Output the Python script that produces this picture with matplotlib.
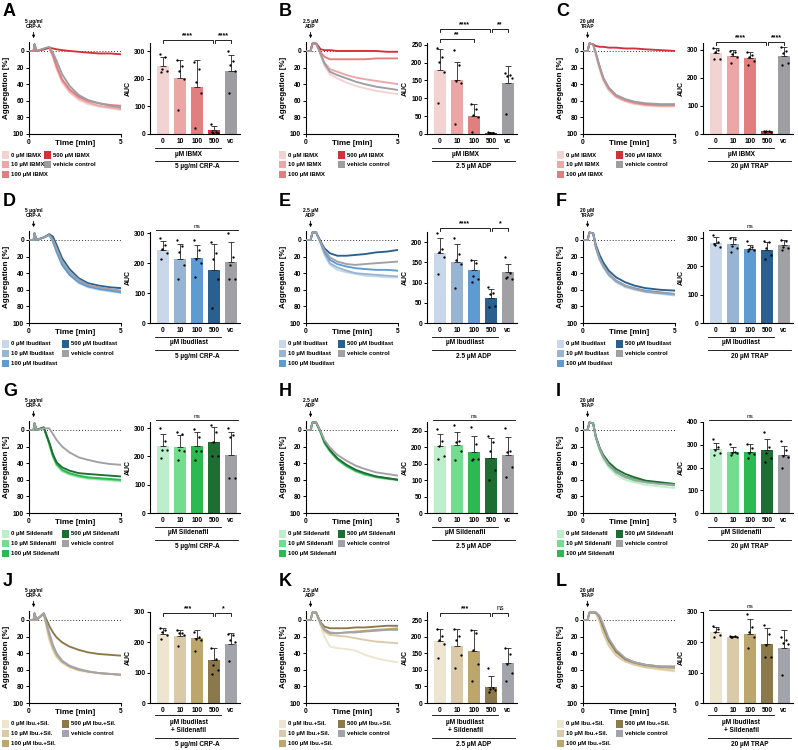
import matplotlib
matplotlib.use('Agg')
import matplotlib.pyplot as plt
import matplotlib.transforms as mtransforms
from matplotlib.patches import Rectangle

plt.rcParams['font.family'] = ['Liberation Sans', 'DejaVu Sans']
plt.rcParams['font.weight'] = 'bold'
plt.rcParams['axes.linewidth'] = 0.8

# ---------------- data ----------------
conc = ['0', '10', '100', '500']
bar_names = ['0', '10', '100', '500', 'vc']

t_crp = [0, 0.25, 0.3, 0.4, 0.8, 1.1, 1.3, 1.5, 1.8, 2.2, 2.7, 3.2, 3.8, 4.4, 5.0]
t_adp = [0, 0.25, 0.35, 0.55, 0.8, 1.0, 1.3, 1.7, 2.2, 2.7, 3.2, 3.8, 4.4, 5.0]
t_trap = [0, 0.25, 0.35, 0.55, 0.7, 0.9, 1.1, 1.4, 1.8, 2.3, 2.8, 3.4, 4.2, 5.0]

# aggregation traces, order: 0, 10, 100, 500, vehicle control
tr_A = [[0, 0, -8, 0, -2, -4, 8, 22, 38, 50, 59, 64, 67, 69, 71],
        [0, 0, -8, 0, -2, -4, 6, 20, 36, 48, 57, 62, 66, 68, 70],
        [0, 0, -8, 0, -2, -4, 5, 18, 34, 46, 55, 60, 63, 65, 66],
        [0, 0, -8, 0, -2, -4, -3, -2, -1, 0, 1, 2, 3, 3, 4],
        [0, 0, -8, 0, -3, -5, 2, 12, 28, 42, 53, 59, 63, 66, 68]]
tr_D = [[0, 0, -8, 0, -3, -6, 2, 15, 30, 42, 52, 57, 60, 62, 64],
        [0, 0, -8, 0, -3, -6, 0, 12, 27, 40, 50, 55, 58, 60, 62],
        [0, 0, -8, 0, -3, -6, 2, 14, 30, 42, 51, 56, 59, 61, 63],
        [0, 0, -8, 0, -3, -7, -4, 6, 22, 35, 46, 52, 55, 57, 58],
        [0, 0, -8, 0, -3, -6, 0, 10, 26, 38, 48, 54, 57, 59, 61]]
tr_G = [[0, 0, -8, 0, -3, 18, 33, 43, 50, 54, 57, 59, 60, 61, 62],
        [0, 0, -8, 0, -3, 17, 32, 42, 49, 53, 56, 58, 59, 60, 61],
        [0, 0, -8, 0, -3, 16, 31, 41, 48, 52, 55, 57, 58, 59, 60],
        [0, 0, -8, 0, -3, 15, 29, 39, 45, 49, 52, 53, 54, 55, 56],
        [0, 0, -8, 0, -2, -2, 5, 12, 20, 27, 33, 36, 39, 41, 42]]
tr_J = [[0, 0, -8, 0, -7, 25, 37, 45, 52, 57, 61, 63, 64, 65, 66],
        [0, 0, -8, 0, -7, 22, 35, 44, 51, 56, 60, 62, 64, 65, 66],
        [0, 0, -8, 0, -8, 18, 32, 42, 50, 56, 60, 62, 64, 65, 66],
        [0, 0, -8, 0, -8, 7, 15, 21, 27, 32, 36, 39, 41, 42, 43],
        [0, 0, -8, 0, -8, 15, 30, 40, 49, 55, 59, 62, 64, 65, 66]]
tr_B = [[0, 0, -9, -9, 5, 18, 28, 33, 38, 42, 45, 48, 50, 52],
        [0, 0, -9, -9, 4, 14, 22, 25, 29, 32, 34, 36, 38, 40],
        [0, 0, -9, -9, 2, 7, 10, 10, 10, 10, 10, 9, 9, 9],
        [0, 0, -9, -9, -2, -1, -1, 0, 0, 0, 0, 0, 1, 1],
        [0, 0, -9, -9, 4, 15, 25, 29, 33, 37, 40, 43, 45, 47]]
tr_E = [[0, 0, -9, -9, 5, 18, 30, 36, 39, 41, 43, 44, 45, 45],
        [0, 0, -9, -9, 4, 16, 28, 33, 37, 40, 41, 42, 43, 44],
        [0, 0, -9, -9, 3, 14, 24, 29, 32, 34, 35, 36, 36, 37],
        [0, 0, -9, -9, 2, 10, 16, 19, 19, 18, 17, 15, 14, 12],
        [0, 0, -9, -9, 3, 12, 21, 26, 29, 30, 29, 28, 27, 26]]
tr_H = [[0, 0, -9, -9, 3, 15, 25, 35, 43, 49, 53, 57, 59, 61],
        [0, 0, -9, -9, 4, 16, 26, 36, 44, 50, 54, 57, 59, 60],
        [0, 0, -9, -9, 3, 15, 25, 35, 43, 49, 53, 56, 58, 60],
        [0, 0, -9, -9, 2, 14, 24, 34, 42, 48, 52, 56, 58, 60],
        [0, 0, -9, -9, 2, 12, 21, 30, 37, 43, 47, 51, 53, 55]]
tr_K = [[0, 0, -9, -9, 8, 20, 32, 34, 35, 37, 42, 46, 49, 51],
        [0, 0, -9, -9, 6, 14, 18, 19, 20, 22, 24, 26, 27, 28],
        [0, 0, -9, -9, 5, 12, 16, 16, 15, 14, 13, 12, 11, 10],
        [0, 0, -9, -9, 3, 8, 10, 10, 10, 9, 9, 8, 7, 7],
        [0, 0, -9, -9, 4, 11, 15, 16, 15, 15, 14, 13, 12, 12]]
tr_C = [[0, 0, -9, -8, 5, 22, 36, 48, 56, 61, 64, 66, 67, 67],
        [0, 0, -9, -8, 4, 20, 34, 46, 55, 60, 63, 65, 66, 66],
        [0, 0, -9, -8, 3, 19, 33, 45, 54, 59, 62, 64, 65, 65],
        [0, 0, -9, -8, -6, -5, -5, -4, -4, -3, -3, -2, -1, 0],
        [0, 0, -9, -8, 3, 18, 32, 44, 53, 58, 61, 63, 64, 64]]
tr_F = [[0, 0, -9, -8, 10, 24, 33, 43, 51, 57, 60, 63, 65, 67],
        [0, 0, -9, -8, 9, 23, 32, 42, 50, 56, 59, 62, 64, 66],
        [0, 0, -9, -8, 9, 22, 31, 41, 49, 55, 58, 61, 63, 65],
        [0, 0, -9, -8, 6, 18, 27, 37, 45, 51, 55, 58, 60, 61],
        [0, 0, -9, -8, 8, 22, 31, 41, 49, 55, 59, 62, 64, 65]]
tr_I = [[0, 0, -9, -8, 10, 25, 35, 45, 54, 60, 63, 66, 68, 70],
        [0, 0, -9, -8, 9, 23, 33, 43, 51, 57, 61, 63, 65, 67],
        [0, 0, -9, -8, 9, 22, 32, 42, 50, 56, 59, 62, 64, 66],
        [0, 0, -9, -8, 8, 21, 30, 39, 47, 53, 57, 61, 63, 65],
        [0, 0, -9, -8, 9, 22, 32, 42, 51, 57, 60, 63, 65, 66]]
tr_L = [[0, 0, -9, -9, -9, 0, 15, 30, 42, 50, 54, 57, 60, 62],
        [0, 0, -9, -9, -8, 2, 16, 31, 43, 50, 54, 57, 59, 61],
        [0, 0, -9, -9, -9, -3, 10, 26, 39, 48, 52, 55, 57, 58],
        [0, 0, -9, -9, -9, -4, 8, 24, 38, 47, 51, 54, 56, 56],
        [0, 0, -9, -9, -9, -5, 5, 22, 36, 46, 51, 54, 56, 57]]

# AUC: bar means, SD, single values
auc_A = [247, 202, 172, 14, 228]
sd_A = [31, 68, 97, 14, 60]
pts_A = [[290, 281, 234, 227, 225], [269, 245, 227, 200, 87], [262, 234, 190, 150, 22],
         [38, 8, 5, 3, 8], [300, 266, 252, 227, 149]]
auc_B = [178, 151, 51, 3, 143]
sd_B = [60, 52, 33, 2, 48]
pts_B = [[241, 216, 203, 175, 86], [235, 192, 149, 144, 28], [84, 71, 53, 48, 7],
         [5, 3, 2, 1, 4], [171, 165, 162, 157, 55]]
auc_C = [288, 280, 272, 9, 279]
sd_C = [18, 20, 22, 1, 33]
pts_C = [[306, 300, 294, 268, 267], [297, 294, 286, 274, 255], [292, 282, 274, 261, 247],
         [10, 9, 9, 8, 8], [310, 298, 288, 255, 247]]
auc_D = [243, 216, 217, 178, 204]
sd_D = [33, 50, 46, 88, 66]
pts_D = [[285, 263, 249, 235, 213], [277, 258, 238, 196, 146], [277, 244, 213, 202, 155],
         [271, 233, 213, 149, 50], [302, 222, 196, 146, 146]]
auc_E = [172, 152, 130, 62, 125]
sd_E = [39, 44, 26, 23, 22]
pts_E = [[223, 184, 176, 164, 120], [209, 170, 157, 145, 86], [155, 149, 116, 108, 102],
         [89, 75, 71, 43, 39], [163, 123, 113, 110, 112]]
auc_F = [284, 278, 262, 258, 275]
sd_F = [22, 28, 15, 30, 18]
pts_F = [[312, 285, 275, 268, 280], [300, 298, 272, 265, 250], [290, 270, 262, 258, 255],
         [290, 285, 265, 240, 225], [295, 290, 270, 265, 260]]
auc_G = [238, 233, 238, 250, 204]
sd_G = [41, 43, 50, 54, 84]
pts_G = [[300, 255, 224, 224, 196], [288, 279, 224, 218, 188], [298, 270, 218, 218, 188],
         [312, 285, 250, 200, 200], [300, 276, 270, 124, 124]]
auc_H = [203, 208, 187, 168, 177]
sd_H = [37, 40, 48, 59, 55]
pts_H = [[255, 220, 205, 175, 165], [268, 218, 215, 190, 160], [262, 210, 165, 165, 162],
         [233, 217, 190, 130, 100], [258, 190, 187, 140, 110]]
auc_I = [281, 267, 270, 275, 255]
sd_I = [27, 25, 33, 50, 40]
pts_I = [[327, 290, 276, 262, 255], [302, 270, 265, 262, 255], [305, 285, 262, 260, 240],
         [355, 290, 265, 240, 225], [316, 275, 250, 245, 200]]
auc_J = [228, 222, 214, 143, 196]
sd_J = [19, 20, 26, 39, 36]
pts_J = [[247, 240, 234, 223, 210], [240, 231, 231, 223, 187], [234, 218, 212, 207, 171],
         [181, 146, 124, 108, 97], [229, 223, 207, 201, 138]]
auc_K = [188, 171, 156, 48, 121]
sd_K = [35, 52, 64, 34, 46]
pts_K = [[223, 202, 190, 179, 136], [223, 202, 190, 144, 107], [220, 212, 161, 119, 67],
         [106, 46, 43, 40, 33], [167, 149, 119, 91, 67]]
auc_L = [234, 218, 229, 196, 180]
sd_L = [18, 2, 47, 52, 62]
pts_L = [[253, 243, 234, 224, 218], [221, 220, 218, 216, 218], [294, 251, 234, 218, 180],
         [258, 229, 191, 153, 153], [218, 207, 198, 196, 93]]

red_cols = ['#f3d2d2', '#eca6a6', '#e17e7e', '#d3303a', '#9d9da2']
blue_cols = ['#c8d8ea', '#97b5d2', '#5e9bd2', '#2a6090', '#a0a0a5']
green_cols = ['#bdeecb', '#72dd8e', '#2cb94f', '#1e6e33', '#a0a0a5']
tan_cols = ['#ede5d0', '#dacaa9', '#bda66c', '#8b784b', '#a3a3ab']

agonists = [('5 µg/ml\nCRP-A', '5 µg/ml CRP-A'), ('2.5 µM\nADP', '2.5 µM ADP'), ('20 µM\nTRAP', '20 µM TRAP')]
drugs = [('IBMX', 'µM IBMX', red_cols), ('Ibudilast', 'µM Ibudilast', blue_cols),
         ('Sildenafil', 'µM Sildenafil', green_cols), ('Ibu.+Sil.', 'µM Ibudilast\n+ Sildenafil', tan_cols)]
times = [t_crp, t_adp, t_trap]

# (letter, row, col, traces, means, sd, points, ymax, ystep, significance)
panels = [
    ('A', 0, 0, tr_A, auc_A, sd_A, pts_A, 330, 100, [(0, 2.92, 40, '****'), (3.08, 4, 40, '****')]),
    ('B', 0, 1, tr_B, auc_B, sd_B, pts_B, 255, 50, [(0, 2.92, 29, '****'), (3.08, 4, 29, '**'), (0, 2, 39, '**')]),
    ('C', 0, 2, tr_C, auc_C, sd_C, pts_C, 325, 100, [(0, 2.92, 42, '****'), (3.08, 4, 42, '****')]),
    ('D', 1, 0, tr_D, auc_D, sd_D, pts_D, 305, 100, 'ns'),
    ('E', 1, 1, tr_E, auc_E, sd_E, pts_E, 225, 50, [(0, 2.92, 39, '****'), (3.08, 4, 39, '*')]),
    ('F', 1, 2, tr_F, auc_F, sd_F, pts_F, 322, 100, 'ns'),
    ('G', 2, 0, tr_G, auc_G, sd_G, pts_G, 322, 100, 'ns'),
    ('H', 2, 1, tr_H, auc_H, sd_H, pts_H, 277, 50, 'ns'),
    ('I', 2, 2, tr_I, auc_I, sd_I, pts_I, 400, 100, 'ns'),
    ('J', 3, 0, tr_J, auc_J, sd_J, pts_J, 300, 100, [(0, 2.92, 44, '***'), (3.08, 4, 44, '*')]),
    ('K', 3, 1, tr_K, auc_K, sd_K, pts_K, 275, 50, [(0, 2.92, 44, '***'), (3.08, 4, 44, 'ns')]),
    ('L', 3, 2, tr_L, auc_L, sd_L, pts_L, 300, 100, 'ns'),
]

# ---------------- layout (pixels) ----------------
W, H = 798, 750
row_top = [0, 189, 379, 569]
trace_left = [29, 306, 583]
bar0_x = [163, 440, 716]
letter_x = [3, 279, 556]
legend_x1 = [2, 279, 557]
legend_x2 = [[44, 338, 616], [62, 338, 616], [62, 338, 616], [62, 338, 616]]
jit = [-0.2, 0.13, -0.05, 0.21, -0.13]

fig = plt.figure(figsize=(W / 100, H / 100), dpi=100)


def add_ax(left, top, width, height):
    return fig.add_axes([left / W, 1 - (top + height) / H, width / W, height / H])


def fig_text(x, y, s, **kw):
    fig.text(x / W, 1 - y / H, s, **kw)


def yb(y):
    # row-relative pixel -> bar axes fraction
    return (134 - y) / 91


for letter, r, c, traces, means, sds, pts, ymax, ystep, sig in panels:
    top = row_top[r]
    dname, dlabel, cols = drugs[r]
    ag_short, ag_long = agonists[c]
    t = times[c]

    fig_text(letter_x[c], top + 12, letter, fontsize=13, fontweight='bold', va='center')

    # ---- aggregation traces ----
    ax = add_ax(trace_left[c], top + 42, 92, 92)
    ax.axhline(0, ls=(0, (1, 2)), color='#333333', lw=0.7, zorder=1)
    for i in [4, 0, 1, 2, 3]:
        ax.plot(t, traces[i], color=cols[i], lw=1.35, zorder=2 + i)
    ax.set_xlim(0, 5)
    ax.set_ylim(100, -10.8)
    ax.set_yticks([0, 20, 40, 60, 80, 100])
    ax.set_xticks([0, 5])
    ax.tick_params(labelsize=4.8, length=2, width=0.7, pad=1.5)
    for s in ['top', 'right']:
        ax.spines[s].set_visible(False)
    ax.set_ylabel('Aggregation [%]', fontsize=5.8, fontweight='bold', labelpad=2)
    ax.text(0.5, (134 - 143.5) / 92, 'Time [min]', transform=ax.transAxes,
            ha='center', va='center', fontsize=5.8)
    tr = mtransforms.blended_transform_factory(ax.transData, ax.transAxes)
    ax.annotate('', xy=(0.25, (134 - 41) / 92), xytext=(0.25, (134 - 29.5) / 92),
                xycoords=tr, textcoords=tr,
                arrowprops=dict(arrowstyle='-|>', lw=0.6, color='k', mutation_scale=4))
    ax.text(0.25, (134 - 29) / 92, ag_short, transform=tr, ha='center', va='bottom',
            fontsize=3.6, linespacing=1.0)

    # legend
    labels = [f'{cc} µM {dname}' for cc in conc] + ['vehicle control']
    for i, lab in enumerate(labels):
        lx = legend_x1[c] if i < 3 else legend_x2[r][c]
        ly = top + 155 + 9.7 * (i if i < 3 else i - 3)
        fig.add_artist(Rectangle((lx / W, 1 - (ly + 3.7) / H), 7.4 / W, 7.4 / H,
                                 transform=fig.transFigure, facecolor=cols[i], edgecolor='none'))
        fig_text(lx + 8.8, ly, lab, fontsize=4.35, va='center')

    # ---- AUC bars ----
    bx = add_ax(bar0_x[c] - 0.75 * 17, top + 43, 5.25 * 17, 91)
    x = range(5)
    bx.bar(x, means, width=0.76, color=cols, zorder=1)
    bx.errorbar(x, means, yerr=[[0] * 5, sds], fmt='none', ecolor='#222222',
                elinewidth=0.6, capsize=2, capthick=0.6, zorder=2)
    for i in x:
        bx.scatter([i + j for j in jit], pts[i], s=2.8, color='k', zorder=3, lw=0)
    bx.set_xlim(-0.75, 4.5)
    bx.set_ylim(0, ymax)
    yt = list(range(0, ymax + 1, ystep))
    bx.set_yticks(yt)
    bx.set_xticks(list(x))
    bx.set_xticklabels(bar_names)
    bx.tick_params(axis='y', labelsize=4.8, length=2, width=0.7, pad=1.5)
    bx.tick_params(axis='x', labelsize=4.8, length=0, pad=3)
    for s in ['top', 'right']:
        bx.spines[s].set_visible(False)
    bx.set_ylabel('AUC', fontsize=5, fontweight='bold', labelpad=2)

    btr = mtransforms.blended_transform_factory(bx.transData, bx.transAxes)
    two = '\n' in dlabel
    l1 = 146 if two else 147.5
    l2 = 169 if two else 160.5
    bx.plot([-0.45, 3.4], [yb(l1), yb(l1)], transform=btr, color='k', lw=0.6, clip_on=False)
    bx.text(1.5, yb((l1 + l2) / 2), dlabel, transform=btr, ha='center', va='center',
            fontsize=4.7, linespacing=1.05)
    bx.plot([-0.45, 4.4], [yb(l2), yb(l2)], transform=btr, color='k', lw=0.6, clip_on=False)
    bx.text(2.0, yb(l2 + 6.5), ag_long, transform=btr, ha='center', va='center', fontsize=4.7)

    # significance
    if sig == 'ns':
        ly = 41
        bx.plot([-0.4, 4.4], [yb(ly), yb(ly)], transform=btr, color='k', lw=0.6, clip_on=False)
        bx.text(2.0, yb(ly - 1.5), 'ns', transform=btr, ha='center', va='bottom',
                fontsize=4.6, fontweight='normal')
    else:
        for x1, x2, ly, s in sig:
            bx.plot([x1, x1, x2, x2], [yb(ly + 3), yb(ly), yb(ly), yb(ly + 3)], transform=btr,
                    color='k', lw=0.6, clip_on=False)
            bx.text((x1 + x2) / 2, yb(ly - 0.5), s, transform=btr, ha='center', va='bottom',
                    fontsize=5, fontweight='normal' if s == 'ns' else 'bold')

fig.savefig('out.png', dpi=100, facecolor='white')
